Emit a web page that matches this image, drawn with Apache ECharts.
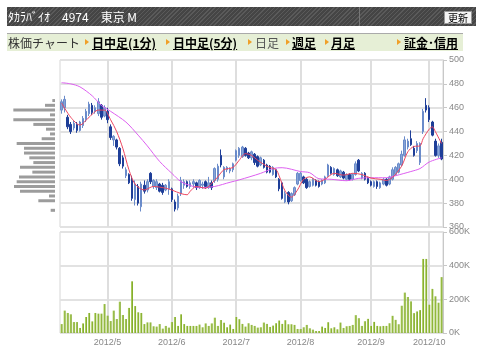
<!DOCTYPE html>
<html>
<head>
<meta charset="utf-8">
<script src="https://cdn.jsdelivr.net/npm/echarts@6/dist/echarts.min.js"></script>
<style>
body { margin: 0; background: #fff; }
#wrap { position: relative; width: 480px; height: 353px; overflow: hidden; font-family: "Noto Sans CJK JP", sans-serif; }
#chart { position: absolute; left: 0; top: 0; width: 480px; height: 353px; }
.title-bar {
    position: absolute; left: 7px; top: 7px; width: 469px; height: 19px;
    background: repeating-linear-gradient(135deg, #5a5a5a 0px, #5a5a5a 1px, #454545 1px, #454545 3px);
}
.title-sep { position: absolute; left: 359px; top: 7px; width: 1px; height: 19px; background: #777; }
.title-text { position: absolute; left: 8px; top: 7px; line-height: 19px; font-size: 12px; color: #fff; white-space: pre; }
.btn {
    position: absolute; left: 444px; top: 11px; width: 26px; height: 11px;
    background: #f4f4f4; border: 1px solid #999; font-size: 10px; line-height: 11px;
    text-align: center; color: #000;
}
.nav-bar {
    position: absolute; left: 7px; top: 33px; width: 456px; height: 17px;
    background: #e6efd6; border-top: 1px solid #aaa;
}
.nav { position: absolute; top: 34px; line-height: 17px; font-size: 12px; white-space: nowrap; }
.nav.lbl { color: #333; }
.nav.link { color: #000; font-weight: bold; text-decoration: underline; }
.nav.cur { color: #555; }
.tri {
    position: absolute; top: 39px; width: 0; height: 0;
    border-left: 4px solid #f0a028; border-top: 3px solid transparent; border-bottom: 3px solid transparent;
}
</style>
</head>
<body>
<div id="wrap">
  <div id="chart"></div>
  <div class="title-bar"></div>
  <div class="title-sep"></div>
  <div class="title-text">ﾀｶﾗﾊﾞｲｵ　4974　東京 M</div>
  <div class="btn">更新</div>
  <div class="nav-bar"></div>
  <div class="nav lbl" style="left:8px">株価チャート</div>
  <div class="tri" style="left:85px"></div><div class="nav link" style="left:92px">日中足(1分)</div>
  <div class="tri" style="left:166px"></div><div class="nav link" style="left:173px">日中足(5分)</div>
  <div class="tri" style="left:248px"></div><div class="nav cur" style="left:255px">日足</div>
  <div class="tri" style="left:286px"></div><div class="nav link" style="left:292px">週足</div>
  <div class="tri" style="left:325px"></div><div class="nav link" style="left:331px">月足</div>
  <div class="tri" style="left:397px"></div><div class="nav link" style="left:404px">証金･信用</div>
</div>
<script>
// trading days shown (2012)
const aprDays = [9, 10, 11, 12, 13, 16, 17, 18, 19, 20, 23, 24, 25, 26, 27]
const mayDays = [1, 2, 7, 8, 9, 10, 11, 14, 15, 16, 17, 18, 21, 22, 23, 24, 25, 28, 29, 30, 31]
const junDays = [1, 4, 5, 6, 7, 8, 11, 12, 13, 14, 15, 18, 19, 20, 21, 22, 25, 26, 27, 28, 29]
const julDays = [2, 3, 4, 5, 6, 9, 10, 11, 12, 13, 17, 18, 19, 20, 23, 24, 25, 26, 27, 30, 31]
const augDays = [1, 2, 3, 6, 7, 8, 9, 10, 13, 14, 15, 16, 17, 20, 21, 22, 23, 24, 27, 28, 29, 30, 31]
const sepDays = [3, 4, 5, 6, 7, 10, 11, 12, 13, 14, 18, 19, 20, 21, 24, 25, 26, 27, 28]
const octDays = [1, 2, 3, 4, 5]

const opens = [
    458, 460, 452, 446, 443, 446, 441, 445, 450, 455, 462, 457, 455, 462, 453,
    457, 444, 433, 433, 426, 418, 403, 404, 400, 383, 394, 377, 395, 391, 405, 394, 393, 396, 395, 391, 392,
    392, 381, 376, 388, 395, 398, 394, 396, 397, 393, 395, 398, 393, 397, 399, 400, 420, 402, 408, 407, 408,
    416, 420, 419, 426, 422, 418, 421, 419, 412, 416, 412, 411, 404, 408, 400, 397, 381, 389, 382, 387, 396,
    399, 402, 400, 394, 395, 399, 398, 396, 397, 403, 410, 404, 408, 402, 406, 400, 404, 400, 404, 416, 401, 405, 401,
    398, 394, 398, 393, 396, 400, 396, 400, 404, 406, 412, 420, 427, 434, 426, 424, 414, 440, 462,
    460, 448, 432, 420, 431
]
const closes = [
    465, 467, 444, 440, 447, 441, 448, 451, 457, 463, 456, 460, 465, 452, 460,
    450, 435, 436, 427, 413, 411, 408, 397, 384, 396, 380, 396, 390, 398, 398, 399, 398, 390, 389, 395, 398,
    383, 375, 386, 399, 398, 394, 397, 398, 393, 399, 396, 394, 397, 393, 409, 411, 412, 410, 410, 409, 413,
    424, 426, 427, 420, 418, 423, 414, 411, 418, 410, 406, 406, 410, 402, 392, 384, 388, 381, 388, 393, 405,
    405, 397, 393, 398, 400, 395, 394, 399, 402, 412, 405, 409, 403, 407, 401, 404, 400, 404, 413, 407, 405, 400, 397,
    395, 398, 394, 397, 400, 395, 402, 408, 410, 413, 421, 433, 432, 429, 420, 430, 430, 457, 458,
    450, 437, 420, 428, 417
]
const lows = [
    455, 456, 442, 438, 441, 439, 440, 443, 448, 453, 454, 455, 453, 450, 452,
    447, 433, 428, 425, 411, 409, 401, 396, 382, 378, 378, 373, 388, 389, 396, 392, 391, 389, 387, 390, 387,
    381, 373, 374, 386, 392, 393, 392, 393, 391, 392, 392, 392, 392, 391, 397, 398, 410, 400, 406, 405, 406,
    415, 418, 418, 419, 417, 416, 412, 410, 411, 409, 405, 405, 403, 401, 390, 383, 380, 379, 381, 386, 395,
    398, 396, 392, 393, 394, 394, 393, 395, 396, 402, 404, 403, 402, 401, 400, 399, 399, 399, 403, 406, 400, 399, 396,
    394, 393, 392, 392, 395, 394, 395, 399, 403, 405, 411, 419, 425, 428, 419, 422, 412, 438, 456,
    448, 436, 419, 418, 416
]
const highs = [
    467, 470, 454, 448, 449, 448, 449, 453, 459, 465, 464, 462, 468, 463, 462,
    460, 446, 437, 434, 427, 420, 410, 405, 403, 399, 396, 398, 399, 400, 406, 400, 400, 397, 397, 396, 400,
    393, 383, 388, 402, 400, 399, 399, 400, 398, 400, 398, 399, 402, 399, 410, 413, 425, 411, 411, 410, 414,
    425, 427, 428, 427, 423, 424, 422, 420, 419, 417, 413, 412, 411, 409, 401, 398, 390, 390, 389, 394, 406,
    406, 403, 401, 399, 401, 400, 399, 400, 403, 413, 411, 410, 409, 408, 407, 405, 405, 405, 415, 417, 406, 406, 402,
    399, 399, 399, 398, 401, 401, 403, 410, 411, 414, 424, 436, 434, 441, 428, 432, 431, 459, 468,
    462, 449, 434, 430, 434
]
// volume, thousand shares
const volumes = [
    53, 133, 119, 111, 65, 65, 30, 57, 95, 119, 69, 119, 115, 115, 172,
    103, 71, 133, 83, 186, 107, 83, 149, 307, 160, 123, 119, 53, 63, 63, 40, 38, 53, 26, 42, 32,
    65, 95, 42, 111, 53, 42, 42, 42, 42, 50, 34, 57, 42, 57, 91, 42, 77, 61, 34, 50, 24,
    95, 82, 54, 38, 58, 48, 42, 32, 34, 62, 54, 36, 44, 58, 74, 54, 76, 52, 52, 48, 24,
    24, 34, 48, 28, 20, 12, 12, 38, 30, 64, 28, 34, 22, 62, 30, 40, 42, 48, 106, 88, 42, 70, 84,
    42, 66, 42, 40, 42, 42, 58, 102, 78, 52, 162, 240, 214, 188, 118, 128, 136, 440, 440,
    168, 262, 218, 180, 332
]
// moving averages: [day index, price]
const maShort = [
    [0, 464], [3, 452], [6, 445.5], [9, 452], [12, 458], [14, 458], [16, 450], [18, 440], [20, 426],
    [22, 408], [24, 396], [27, 391], [30, 394], [34, 392.5], [36, 391], [39, 388], [41, 387], [42, 390],
    [44, 394], [47, 392.5], [49, 396.5], [51, 402], [53, 408], [56, 410], [58, 416], [60, 421.5], [62, 420],
    [64, 416], [67, 411], [70, 408], [71, 403], [73, 390], [75, 385], [77, 391], [79, 400], [81, 402],
    [84, 398], [86, 400], [89, 405], [92, 403.5], [95, 405], [98, 404], [101, 401], [104, 400], [106, 399],
    [108, 401.5], [111, 411], [113, 423], [115, 427.5], [117, 428], [118, 434], [120, 442], [121, 444],
    [122, 440], [124, 430]
]
const maLong = [
    [0, 481], [3, 480], [6, 477.5], [10, 470], [13, 462], [16, 457], [21, 448], [25, 437], [28, 428],
    [32, 415], [36, 405], [39, 398], [43, 394], [46, 393], [50, 394], [55, 397.5], [58, 399.5], [65, 405],
    [69, 409], [72, 409.7], [78, 406.5], [81, 405.5], [84, 400.5], [88, 400], [93, 398.8], [97, 400.8],
    [101, 401.3], [106, 401.3], [109, 403], [114, 406.5], [117, 409], [120, 414.5], [124, 418]
]
// volume by price (left side)
const histLevels = [466, 462, 458, 454, 450, 446, 442, 438, 434, 430, 426, 422, 418, 414, 410, 406, 402, 398, 394, 390, 386, 382, 378, 374]
const histVolumes = [80, 300, 1250, 150, 1250, 650, 270, 150, 400, 1150, 930, 930, 770, 650, 1050, 680, 1080, 1150, 1230, 1050, 180, 500, 0, 130]

const dates = []
const months = [[4, aprDays], [5, mayDays], [6, junDays], [7, julDays], [8, augDays], [9, sepDays], [10, octDays]]
months.forEach(([m, days]) => days.forEach(d => dates.push('2012/' + m + '/' + d)))

const monthStart = dates.map((d, i) => i > 0 && d.split('/')[1] !== dates[i - 1].split('/')[1])
const monthLines = dates.filter((d, i) => monthStart[i]).map(d => ({ xAxis: d }))

const candles = dates.map((d, i) => [opens[i], closes[i], lows[i], highs[i]])

// price bins for the side histogram: 4 yen bands over the price axis
const histCats = []
for (let p = 362; p < 500; p += 4) histCats.push(String(p))
const histData = histCats.map(c => {
    const k = histLevels.indexOf(Number(c))
    return k < 0 ? 0 : histVolumes[k]
})

const gridLine = { color: '#e2e2e2', width: 2 }
const labelStyle = { color: '#888', fontSize: 9, fontFamily: 'Liberation Sans' }
const monthMark = {
    silent: true,
    symbol: 'none',
    z: 1,
    label: { show: false },
    lineStyle: { color: '#dedede', width: 2, type: 'solid' },
    data: monthLines
}

const chart = echarts.init(document.getElementById('chart'))
chart.setOption({
    animation: false,
    grid: [
        { left: 60, top: 60, width: 383, height: 167, show: true, borderColor: '#d6d6d6', borderWidth: 1 },
        { left: 60, top: 232, width: 383, height: 101, show: true, borderColor: '#d6d6d6', borderWidth: 1 },
        { left: 0, top: 60, width: 55, height: 167 }
    ],
    xAxis: [
        {
            gridIndex: 0, type: 'category', data: dates, boundaryGap: true,
            axisLine: { show: false }, axisTick: { show: false }, axisLabel: { show: false }, splitLine: { show: false }
        },
        {
            gridIndex: 1, type: 'category', data: dates, boundaryGap: true,
            axisLine: { show: false }, axisTick: { show: false }, splitLine: { show: false },
            axisLabel: {
                ...labelStyle,
                margin: 5,
                interval: (i) => monthStart[i],
                formatter: (v) => v.split('/').slice(0, 2).join('/')
            }
        },
        { gridIndex: 2, type: 'value', inverse: true, min: 0, max: 1650, show: false }
    ],
    yAxis: [
        {
            gridIndex: 0, type: 'value', position: 'right', min: 360, max: 500, interval: 20,
            axisLine: { show: true, lineStyle: { color: '#c8c8c8' } },
            axisTick: { show: true, length: 4, lineStyle: { color: '#c8c8c8' } },
            axisLabel: { ...labelStyle, margin: 6 },
            splitLine: { lineStyle: gridLine }
        },
        {
            gridIndex: 1, type: 'value', position: 'right', min: 0, max: 600, interval: 200,
            axisLine: { show: true, lineStyle: { color: '#c8c8c8' } },
            axisTick: { show: true, length: 4, lineStyle: { color: '#c8c8c8' } },
            axisLabel: { ...labelStyle, margin: 6, formatter: (v) => v + 'K' },
            splitLine: { lineStyle: gridLine }
        },
        { gridIndex: 2, type: 'category', data: histCats, show: false }
    ],
    series: [
        {
            type: 'candlestick',
            xAxisIndex: 0, yAxisIndex: 0,
            data: candles,
            barWidth: 2,
            z: 3,
            itemStyle: {
                color: '#88a4d6', color0: '#1e3e98',
                borderColor: '#6a8bca', borderColor0: '#1e3e98', borderWidth: 1
            },
            markLine: monthMark
        },
        {
            type: 'line', xAxisIndex: 0, yAxisIndex: 0,
            data: maLong, showSymbol: false, smooth: 0.3, z: 4,
            lineStyle: { color: '#dd5ff0', width: 1 }
        },
        {
            type: 'line', xAxisIndex: 0, yAxisIndex: 0,
            data: maShort, showSymbol: false, smooth: 0.3, z: 5,
            lineStyle: { color: '#ec4660', width: 1 }
        },
        {
            type: 'bar',
            xAxisIndex: 1, yAxisIndex: 1,
            data: volumes,
            barWidth: 2,
            z: 3,
            itemStyle: {
                color: new echarts.graphic.LinearGradient(0, 0, 1, 0, [
                    { offset: 0, color: '#b8d66e' },
                    { offset: 1, color: '#74a018' }
                ])
            },
            markLine: monthMark
        },
        {
            type: 'bar',
            xAxisIndex: 2, yAxisIndex: 2,
            data: histData,
            barWidth: 3,
            itemStyle: { color: '#9c9c9c' }
        }
    ]
})
</script>
</body>
</html>
